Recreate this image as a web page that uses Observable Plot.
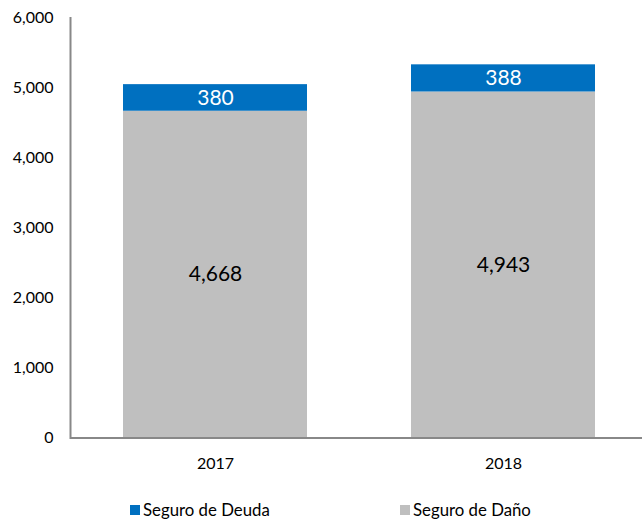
<!DOCTYPE html>
<html>
<head>
<meta charset="utf-8">
<script src="https://cdn.jsdelivr.net/npm/d3@7"></script>
<script src="https://cdn.jsdelivr.net/npm/@observablehq/plot@0.6"></script>
<style>
  body { margin: 0; background: #fff; font-family: Lato, "Noto Sans", sans-serif; }
  #wrap { position: relative; width: 642px; height: 520px; }
  .legend { position: absolute; top: 499px; left: 0; width: 642px; height: 20px; font-size: 16.8px; color: #000; }
  .item { position: absolute; display: flex; align-items: center; }
  .sw { width: 10px; height: 10px; margin-right: 3px; }
</style>
</head>
<body>
<div id="wrap"></div>
<script>
const years = ["2017", "2018"];
const seriesNames = ["Seguro de Daño", "Seguro de Deuda"];
const danioValues = [4668, 4943];
const deudaValues = [380, 388];
const yTicks = [0, 1000, 2000, 3000, 4000, 5000, 6000];
const colors = ["#BFBFBF", "#0070C0"];
const labelColors = ["#000000", "#FFFFFF"];

const rows = [];
years.forEach((yr, i) => {
  rows.push({year: yr, serie: seriesNames[0], value: danioValues[i]});
  rows.push({year: yr, serie: seriesNames[1], value: deudaValues[i]});
});

const fmt = d3.format(",");

const chart = Plot.plot({
  width: 642,
  height: 480,
  marginLeft: 70,
  marginRight: -5.5,
  marginTop: 17.5,
  marginBottom: 42.5,
  style: {fontFamily: "Lato, 'Noto Sans', sans-serif", fontSize: "16px", color: "#000", background: "#fff"},
  x: {domain: years, padding: 0, label: null},
  y: {domain: [0, 6000], label: null},
  color: {domain: seriesNames, range: colors},
  marks: [
    Plot.barY(rows, Plot.stackY({x: "year", y: "value", fill: "serie", insetLeft: 52, insetRight: 52})),
    Plot.text(rows, Plot.stackY({
      x: "year", y: "value", z: "serie",
      text: d => fmt(d.value),
      fill: d => labelColors[seriesNames.indexOf(d.serie)],
      fontSize: 21,
      fontFamily: "Lato, 'Noto Sans', sans-serif"
    })),
    Plot.axisY({ticks: yTicks, tickFormat: fmt, tickSize: 0, tickPadding: 17, fontSize: 16, label: null}),
    Plot.axisX({tickSize: 0, tickPadding: 20, fontSize: 16, label: null}),
    Plot.frame({anchor: "left", stroke: "#888", strokeWidth: 2}),
    Plot.ruleY([0], {stroke: "#888", strokeWidth: 2})
  ]
});

const wrap = document.getElementById("wrap");
wrap.appendChild(chart);

const legend = document.createElement("div");
legend.className = "legend";
const positions = [{name: seriesNames[1], color: colors[1], left: 130}, {name: seriesNames[0], color: colors[0], left: 400}];
positions.forEach(p => {
  const it = document.createElement("div");
  it.className = "item";
  it.style.left = p.left + "px";
  const sw = document.createElement("span");
  sw.className = "sw";
  sw.style.background = p.color;
  const tx = document.createElement("span");
  tx.textContent = p.name;
  it.appendChild(sw);
  it.appendChild(tx);
  legend.appendChild(it);
});
wrap.appendChild(legend);
</script>
</body>
</html>
